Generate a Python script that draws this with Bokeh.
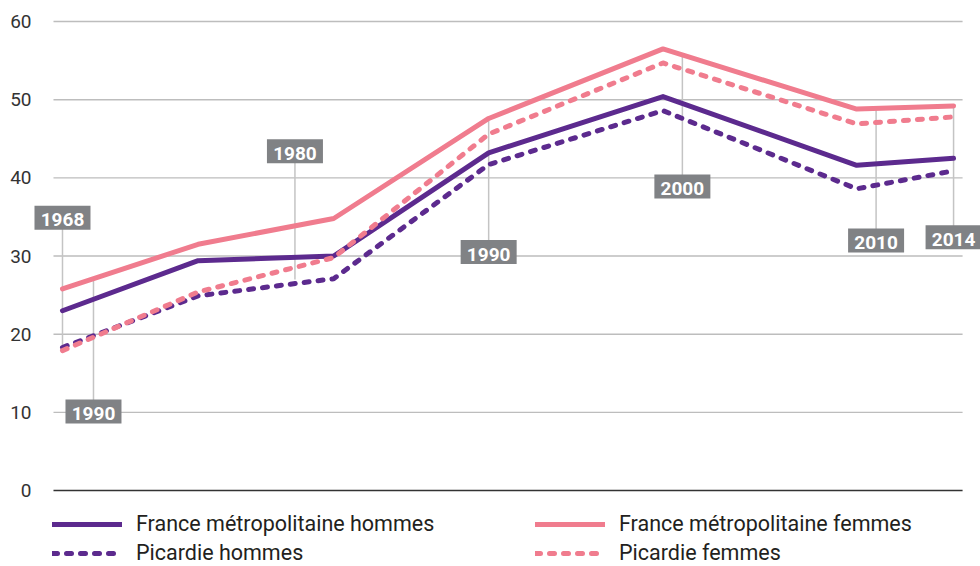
from bokeh.plotting import figure
from bokeh.models import Range1d, Legend, LegendItem, ColumnDataSource
from bokeh.core.properties import value
from bokeh.embed import file_html
from bokeh.resources import INLINE

# --- data ---
years = [1968, 1975, 1982, 1990, 1999, 2009, 2014]
france_hommes = [23.0, 29.4, 30.0, 43.2, 50.4, 41.6, 42.5]
france_femmes = [25.8, 31.5, 34.8, 47.6, 56.5, 48.8, 49.2]
picardie_hommes = [18.3, 24.9, 27.1, 41.7, 48.6, 38.6, 40.9]
picardie_femmes = [17.9, 25.4, 29.8, 45.6, 54.7, 46.9, 47.8]
y_ticks = [0, 10, 20, 30, 40, 50, 60]
y_tick_labels = ["0", "10", "20", "30", "40", "50", "60"]

# annotation tags (text, year position, value position of box, value where leader ends)
tag_text = ["1968", "1990", "1980", "1990", "2000", "2010", "2014"]
tag_x = [1968, 1969.6, 1980, 1990, 2000, 2010, 2014]
tag_y = [34.9, 10.1, 43.4, 30.5, 38.9, 32.0, 32.4]
tag_end = [18.3, 27.0, 27.0, 47.8, 55.7, 48.8, 49.3]

# plotting area extent (in axis units) and full-canvas ranges
GRID_X0, GRID_X1 = 1967.535, 2014.465
LABEL_X = 1966.40
X_RANGE = (1964.80, 2015.39)
Y_RANGE = (-9.72, 62.69)

PURPLE = "#5c2a8e"
PINK = "#f07c8e"
FONT = "Roboto"

p = figure(width=980, height=566,
           x_range=Range1d(*X_RANGE), y_range=Range1d(*Y_RANGE),
           output_backend="svg", toolbar_location=None,
           min_border=0)
p.outline_line_color = None
p.axis.visible = False
p.grid.visible = False

# grid lines and tick labels
n = len(y_ticks)
grid = ColumnDataSource(dict(x0=[GRID_X0] * n, x1=[GRID_X1] * n, y=y_ticks,
                             lx=[LABEL_X] * n, lab=y_tick_labels,
                             c=["#333333"] + ["#bdbdbd"] * (n - 1)))
p.segment(x0="x0", y0="y", x1="x1", y1="y", source=grid, line_color="c", line_width=1.4)
p.text(x="lx", y="y", text="lab", source=grid, text_font=value(FONT), text_font_size="19px",
       text_color="#333333", text_align="right", text_baseline="middle")

# leader lines
tags = ColumnDataSource(dict(x=tag_x, y=tag_y, end=tag_end, t=tag_text))
p.segment(x0="x", y0="y", x1="x", y1="end", source=tags, line_color="#c4c4c4", line_width=1.5)

# series
r1 = p.line(years, france_hommes, line_color=PURPLE, line_width=5, line_join="round", line_cap="round")
r2 = p.line(years, france_femmes, line_color=PINK, line_width=5, line_join="round", line_cap="round")
r3 = p.line(years, picardie_hommes, line_color=PURPLE, line_width=5, line_dash="5 9", line_join="round", line_cap="round")
r4 = p.line(years, picardie_femmes, line_color=PINK, line_width=5, line_dash="5 9", line_join="round", line_cap="round")

# tag boxes
p.rect(x="x", y="y", width=56, height=24, width_units="screen", height_units="screen",
       source=tags, fill_color="#808285", line_color=None)
p.text(x="x", y="y", text="t", source=tags, text_color="white", text_font=value(FONT),
       text_font_style="bold", text_font_size="19px", text_align="center",
       text_baseline="middle", y_offset=2)

legend = Legend(items=[LegendItem(label="France métropolitaine hommes", renderers=[r1]),
                       LegendItem(label="Picardie hommes", renderers=[r3]),
                       LegendItem(label="France métropolitaine femmes", renderers=[r2]),
                       LegendItem(label="Picardie femmes", renderers=[r4])],
                ncols=2, location=(52, 1))
legend.glyph_width = 70
legend.glyph_height = 22
legend.label_standoff = 14
legend.label_width = 395
legend.spacing = 4
legend.padding = 0
legend.margin = 0
legend.label_text_font = FONT
legend.label_text_font_size = "21.5px"
legend.label_text_color = "#231f20"
legend.border_line_color = None
legend.background_fill_alpha = 0
p.add_layout(legend)

open("out.html", "w").write(file_html(p, INLINE))
